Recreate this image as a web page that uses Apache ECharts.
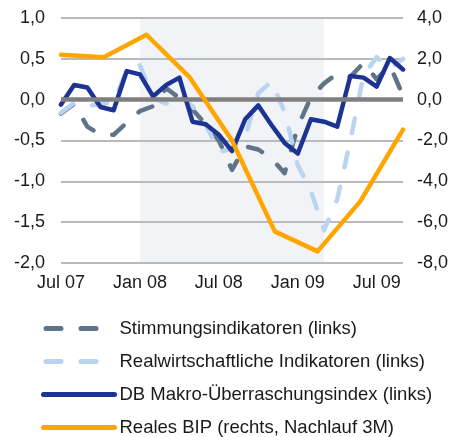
<!DOCTYPE html>
<html>
<head>
<meta charset="utf-8">
<script src="https://cdn.jsdelivr.net/npm/echarts@6/dist/echarts.min.js"></script>
<style>
html, body { margin: 0; padding: 0; background: #fff; }
#chart { width: 452px; height: 437px; }
</style>
</head>
<body>
<div id="chart"></div>
<script>
// Monatsachse (links) und Quartalsachse fuer das BIP (rechts)
const months = ['Jul 07', 'Aug 07', 'Sep 07', 'Okt 07', 'Nov 07', 'Dez 07',
    'Jan 08', 'Feb 08', 'Mär 08', 'Apr 08', 'Mai 08', 'Jun 08',
    'Jul 08', 'Aug 08', 'Sep 08', 'Okt 08', 'Nov 08', 'Dez 08',
    'Jan 09', 'Feb 09', 'Mär 09', 'Apr 09', 'Mai 09', 'Jun 09',
    'Jul 09', 'Aug 09', 'Sep 09'];
const quarters = ['Q3 07', 'Q4 07', 'Q1 08', 'Q2 08', 'Q3 08', 'Q4 08', 'Q1 09', 'Q2 09', 'Q3 09'];

const stimmung = [-0.17, -0.05, -0.33, -0.43, -0.43, -0.28, -0.14, -0.08, 0.14, 0.02,
    -0.12, -0.3, -0.5, -0.86, -0.57, -0.61, -0.72, -0.9, -0.33, 0.03,
    0.2, 0.32, 0.28, 0.45, 0.25, 0.42, 0.05];
const realwirtschaft = [-0.16, -0.04, -0.08, -0.05, -0.03, 0.36, 0.42, 0.02, -0.05, 0.06,
    -0.08, -0.3, -0.64, -0.6, -0.45, 0.08, 0.22, -0.15, -0.8, -1.12,
    -1.6, -1.22, -0.5, 0.3, 0.52, 0.38, 0.5];
const makro = [-0.06, 0.18, 0.15, -0.09, -0.13, 0.35, 0.31, 0.04, 0.18, 0.27,
    -0.27, -0.3, -0.43, -0.63, -0.24, -0.07, -0.31, -0.53, -0.66, -0.24,
    -0.27, -0.33, 0.29, 0.27, 0.16, 0.51, 0.37];
const bip = [2.2, 2.08, 3.18, 1.12, -2.0, -6.45, -7.43, -4.98, -1.47];

// Rezessionsphase (grau hinterlegt)
const shadeFrom = 'Jan 08';
const shadeTo = 'Mär 09';

const font = 'Liberation Sans, Arial, sans-serif';
const fmt = (v) => v.toFixed(1).replace('.', ',');

const dash = [15, 20];

const chart = echarts.init(document.getElementById('chart'));
chart.setOption({
    animation: false,
    textStyle: { fontFamily: font },
    grid: { left: 61, right: 49, top: 18, bottom: 174 },
    legend: {
        orient: 'vertical',
        left: 41,
        top: 319,
        height: 160,
        padding: 0,
        itemWidth: 71,
        itemHeight: 18,
        itemGap: 14,
        lineStyle: { width: 5, opacity: 1, dashOffset: -2.5 },
        itemStyle: { opacity: 0 },
        textStyle: { fontSize: 18.5, color: '#1a1a1a', fontFamily: font, lineHeight: 18 },
        data: ['Stimmungsindikatoren (links)', 'Realwirtschaftliche Indikatoren (links)',
            'DB Makro-Überraschungsindex (links)', 'Reales BIP (rechts, Nachlauf 3M)']
    },
    xAxis: [
        {
            type: 'category',
            data: months,
            boundaryGap: false,
            axisLine: { show: false },
            axisTick: { show: false },
            splitLine: { show: false },
            axisLabel: { interval: 5, margin: 11, fontSize: 18, color: '#1a1a1a', fontFamily: font }
        },
        {
            type: 'category',
            data: quarters,
            boundaryGap: false,
            show: false
        }
    ],
    yAxis: [
        {
            type: 'value',
            min: -2, max: 1, interval: 0.5,
            axisLine: { show: false },
            axisTick: { show: false },
            axisLabel: { formatter: fmt, margin: 16, fontSize: 18, color: '#1a1a1a', fontFamily: font },
            splitLine: { lineStyle: { color: '#a2a2a2', width: 1.5 } }
        },
        {
            type: 'value',
            position: 'right',
            min: -8, max: 4, interval: 2,
            axisLine: { show: false },
            axisTick: { show: false },
            axisLabel: { formatter: fmt, margin: 14, fontSize: 18, color: '#1a1a1a', fontFamily: font },
            splitLine: { show: false }
        }
    ],
    series: [
        {
            // Nulllinie
            type: 'line',
            data: [],
            z: 1,
            silent: true,
            markLine: {
                silent: true,
                symbol: ['none', 'none'],
                label: { show: false },
                lineStyle: { color: '#7f7f7f', width: 4.5, type: 'solid' },
                data: [{ yAxis: 0 }]
            }
        },
        {
            name: 'Stimmungsindikatoren (links)',
            type: 'line',
            data: stimmung,
            symbol: 'none',
            z: 2,
            lineStyle: { color: '#5f7489', width: 4.5, type: dash, cap: 'round', join: 'round' },
            itemStyle: { color: '#5f7489' }
        },
        {
            name: 'Realwirtschaftliche Indikatoren (links)',
            type: 'line',
            data: realwirtschaft,
            symbol: 'none',
            z: 3,
            lineStyle: { color: '#b9d4f0', width: 4.5, type: dash, cap: 'round', join: 'round' },
            itemStyle: { color: '#b9d4f0' }
        },
        {
            name: 'DB Makro-Überraschungsindex (links)',
            type: 'line',
            data: makro,
            symbol: 'none',
            z: 4,
            lineStyle: { color: '#1d3394', width: 4.5, cap: 'round', join: 'round' },
            itemStyle: { color: '#1d3394' }
        },
        {
            name: 'Reales BIP (rechts, Nachlauf 3M)',
            type: 'line',
            xAxisIndex: 1,
            yAxisIndex: 1,
            data: bip,
            symbol: 'none',
            z: 5,
            lineStyle: { color: '#ffa500', width: 4.5, cap: 'round', join: 'round' },
            itemStyle: { color: '#ffa500' }
        },
        {
            // halbtransparente Flaeche ueber allem
            type: 'line',
            data: [],
            z: 10,
            silent: true,
            markArea: {
                silent: true,
                itemStyle: { color: 'rgba(190,196,210,0.2)' },
                data: [[{ xAxis: shadeFrom }, { xAxis: shadeTo }]]
            }
        }
    ]
});
</script>
</body>
</html>
